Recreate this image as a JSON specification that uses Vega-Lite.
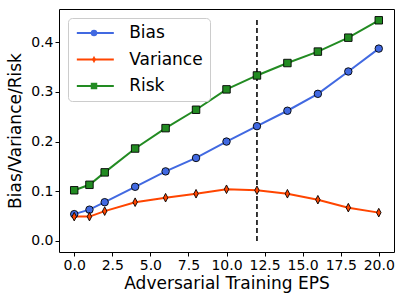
{
  "$schema": "https://vega.github.io/schema/vega-lite/v6.json",
  "autosize": "none",
  "padding": {"left": 59, "top": 9, "right": 11, "bottom": 52},
  "width": 335,
  "height": 243,
  "config": {
    "font": "DejaVu Sans",
    "view": {"stroke": "#000", "strokeWidth": 1},
    "axis": {
      "domain": false,
      "grid": false,
      "ticks": true,
      "tickColor": "#000",
      "tickSize": 4,
      "tickWidth": 1,
      "labelColor": "#000",
      "labelFont": "DejaVu Sans",
      "labelFontSize": 14,
      "labelPadding": 2,
      "titleColor": "#000",
      "titleFont": "DejaVu Sans",
      "titleFontSize": 17,
      "titleFontWeight": "normal"
    },
    "legend": {
      "labelFont": "DejaVu Sans",
      "labelFontSize": 17,
      "labelColor": "#000"
    }
  },
  "datasets": {
    "main": [
      {"eps": 0, "series": "Bias", "value": 0.054},
      {"eps": 1, "series": "Bias", "value": 0.063},
      {"eps": 2, "series": "Bias", "value": 0.078},
      {"eps": 4, "series": "Bias", "value": 0.109},
      {"eps": 6, "series": "Bias", "value": 0.140},
      {"eps": 8, "series": "Bias", "value": 0.167},
      {"eps": 10, "series": "Bias", "value": 0.200},
      {"eps": 12, "series": "Bias", "value": 0.231},
      {"eps": 14, "series": "Bias", "value": 0.262},
      {"eps": 16, "series": "Bias", "value": 0.296},
      {"eps": 18, "series": "Bias", "value": 0.341},
      {"eps": 20, "series": "Bias", "value": 0.387},
      {"eps": 0, "series": "Variance", "value": 0.049},
      {"eps": 1, "series": "Variance", "value": 0.049},
      {"eps": 2, "series": "Variance", "value": 0.060},
      {"eps": 4, "series": "Variance", "value": 0.078},
      {"eps": 6, "series": "Variance", "value": 0.087},
      {"eps": 8, "series": "Variance", "value": 0.095},
      {"eps": 10, "series": "Variance", "value": 0.104},
      {"eps": 12, "series": "Variance", "value": 0.102},
      {"eps": 14, "series": "Variance", "value": 0.095},
      {"eps": 16, "series": "Variance", "value": 0.083},
      {"eps": 18, "series": "Variance", "value": 0.067},
      {"eps": 20, "series": "Variance", "value": 0.057},
      {"eps": 0, "series": "Risk", "value": 0.102},
      {"eps": 1, "series": "Risk", "value": 0.113},
      {"eps": 2, "series": "Risk", "value": 0.138},
      {"eps": 4, "series": "Risk", "value": 0.186},
      {"eps": 6, "series": "Risk", "value": 0.227},
      {"eps": 8, "series": "Risk", "value": 0.264},
      {"eps": 10, "series": "Risk", "value": 0.305},
      {"eps": 12, "series": "Risk", "value": 0.333},
      {"eps": 14, "series": "Risk", "value": 0.358},
      {"eps": 16, "series": "Risk", "value": 0.381},
      {"eps": 18, "series": "Risk", "value": 0.409},
      {"eps": 20, "series": "Risk", "value": 0.444}
    ],
    "vline": [{"eps": 12, "y0": 0, "y1": 0.445}]
  },
  "encoding": {
    "x": {
      "field": "eps", "type": "quantitative",
      "scale": {"domain": [-1, 21], "nice": false, "zero": false},
      "axis": {"values": [0, 2.5, 5, 7.5, 10, 12.5, 15, 17.5, 20], "format": ".1f", "title": "Adversarial Training EPS", "titlePadding": 3}
    }
  },
  "layer": [
    {
      "data": {"name": "vline"},
      "mark": {"type": "rule", "color": "#222", "strokeWidth": 1.8, "strokeDash": [5, 3]},
      "encoding": {
        "y": {"field": "y0", "type": "quantitative"},
        "y2": {"field": "y1"}
      }
    },
    {
      "data": {"name": "main"},
      "mark": {"type": "line", "strokeWidth": 2},
      "encoding": {
        "y": {
          "field": "value", "type": "quantitative",
          "scale": {"domain": [-0.0222, 0.4667], "nice": false, "zero": false},
          "axis": {"values": [0, 0.1, 0.2, 0.3, 0.4], "format": ".1f", "title": "Bias/Variance/Risk", "titlePadding": 6}
        },
        "stroke": {
          "field": "series", "type": "nominal",
          "sort": ["Bias", "Variance", "Risk"],
          "scale": {"range": ["#4169E1", "#FF4500", "#228B22"]},
          "legend": {
            "title": null, "orient": "none", "legendX": 9, "legendY": 9,
            "symbolType": "M-1,0L5,0", "symbolSize": 152, "symbolStrokeWidth": 2,
            "labelOffset": 37.7, "rowPadding": 8.5, "padding": 6.5,
            "fillColor": "white", "strokeColor": "#cccccc", "cornerRadius": 4,
            "zindex": 0
          }
        },
        "detail": {"field": "series"}
      }
    },
    {
      "data": {"name": "main"},
      "mark": {"type": "point", "filled": true, "stroke": "#000", "strokeWidth": 0.9, "opacity": 1, "size": 56},
      "encoding": {
        "y": {"field": "value", "type": "quantitative"},
        "fill": {
          "field": "series", "type": "nominal",
          "scale": {"domain": ["Bias", "Variance", "Risk"], "range": ["#4169E1", "#FF4500", "#228B22"]},
          "legend": {
            "title": null, "orient": "none", "legendX": 20, "legendY": 9,
            "symbolSize": 42, "symbolStrokeColor": "#000", "symbolStrokeWidth": 0.9, "symbolOpacity": 1,
            "labelExpr": "''", "labelOffset": 13, "rowPadding": 8.5, "padding": 6.5,
            "zindex": 1
          }
        },
        "shape": {
          "field": "series", "type": "nominal",
          "scale": {"domain": ["Bias", "Variance", "Risk"], "range": ["circle", "M0,-1.15L0.6,0L0,1.15L-0.6,0Z", "square"]},
          "legend": {
            "title": null, "orient": "none", "legendX": 20, "legendY": 9,
            "symbolSize": 42, "symbolStrokeColor": "#000", "symbolStrokeWidth": 0.9, "symbolOpacity": 1,
            "labelExpr": "''", "labelOffset": 13, "rowPadding": 8.5, "padding": 6.5,
            "zindex": 1
          }
        }
      }
    }
  ]
}
